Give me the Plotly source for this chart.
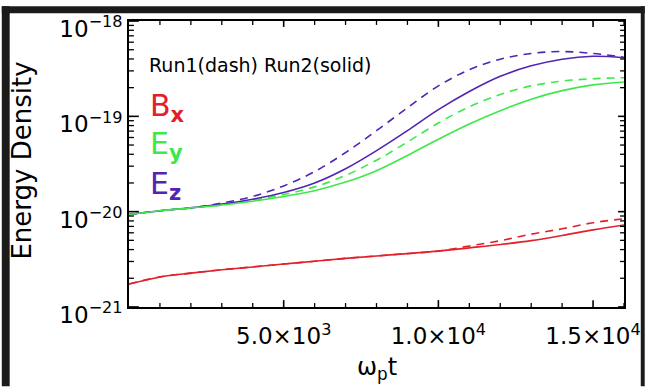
import plotly.graph_objects as go

# time axis (omega_p t)
t = [0, 1000, 2000, 3000, 4000, 5000, 6000, 7000, 8000, 9000, 10000,
     11000, 12000, 13000, 14000, 15000, 16000]

# Run2 (solid)
bx_run2 = [1.738e-21, 2.065e-21, 2.265e-21, 2.455e-21, 2.630e-21, 2.818e-21, 3.020e-21,
           3.236e-21, 3.428e-21, 3.631e-21, 3.855e-21, 4.169e-21, 4.519e-21, 4.966e-21,
           5.623e-21, 6.442e-21, 7.244e-21]
ey_run2 = [9.33e-21, 1.023e-20, 1.096e-20, 1.175e-20, 1.288e-20, 1.445e-20, 1.660e-20,
           2.042e-20, 2.692e-20, 3.890e-20, 5.754e-20, 8.318e-20, 1.148e-19, 1.514e-19,
           1.862e-19, 2.138e-19, 2.291e-19]
ez_run2 = [9.33e-21, 1.023e-20, 1.096e-20, 1.202e-20, 1.349e-20, 1.585e-20, 1.995e-20,
           2.818e-20, 4.365e-20, 7.079e-20, 1.175e-19, 1.820e-19, 2.630e-19, 3.388e-19,
           3.981e-19, 4.266e-19, 4.121e-19]

# Run1 (dash)
bx_run1 = [1.738e-21, 2.065e-21, 2.265e-21, 2.455e-21, 2.630e-21, 2.818e-21, 3.020e-21,
           3.236e-21, 3.428e-21, 3.631e-21, 3.855e-21, 4.365e-21, 4.955e-21, 5.808e-21,
           6.607e-21, 7.656e-21, 8.414e-21]
ey_run1 = [9.33e-21, 1.023e-20, 1.096e-20, 1.175e-20, 1.318e-20, 1.514e-20, 1.820e-20,
           2.399e-20, 3.467e-20, 5.370e-20, 8.511e-20, 1.259e-19, 1.698e-19, 2.089e-19,
           2.344e-19, 2.483e-19, 2.541e-19]
ez_run1 = [9.33e-21, 1.023e-20, 1.096e-20, 1.230e-20, 1.445e-20, 1.862e-20, 2.630e-20,
           4.169e-20, 7.079e-20, 1.230e-19, 2.089e-19, 3.090e-19, 3.981e-19, 4.571e-19,
           4.786e-19, 4.571e-19, 4.169e-19]

x_tickvals = [5000, 10000, 15000]
x_ticktext = ["5.0×10<sup>3</sup>", "1.0×10<sup>4</sup>", "1.5×10<sup>4</sup>"]
x_minorvals = [1000, 2000, 3000, 4000, 6000, 7000, 8000, 9000, 11000, 12000,
               13000, 14000, 16000]
y_tickvals = [1e-21, 1e-20, 1e-19, 1e-18]
y_ticktext = ["10<sup>−21</sup>", "10<sup>−20</sup>", "10<sup>−19</sup>", "10<sup>−18</sup>"]
y_minorvals = [2e-21, 3e-21, 4e-21, 5e-21, 6e-21, 7e-21, 8e-21, 9e-21,
               2e-20, 3e-20, 4e-20, 5e-20, 6e-20, 7e-20, 8e-20, 9e-20,
               2e-19, 3e-19, 4e-19, 5e-19, 6e-19, 7e-19, 8e-19, 9e-19]

RED = "#e3202a"
GREEN = "#3ee84a"
PURPLE = "#5224b4"
DASH = "8px,6px"

fig = go.Figure()
series = [
    (ez_run1, PURPLE, DASH), (ey_run1, GREEN, DASH), (bx_run1, RED, DASH),
    (ez_run2, PURPLE, "solid"), (ey_run2, GREEN, "solid"), (bx_run2, RED, "solid"),
]
for ys, col, dash in series:
    fig.add_trace(go.Scatter(x=t, y=ys, mode="lines",
                             line=dict(color=col, width=1.6, dash=dash, shape="spline"),
                             showlegend=False, hoverinfo="skip"))

FONT = "DejaVu Sans"
W, H = 652, 388
L, R, T, B = 129, 21, 15, 81
pw, ph = W - L - R, H - T - B

def px(xp):
    return (xp - L) / pw

def py(yp):
    return (H - B - yp) / ph

# tick marks drawn inside the frame; helper axes x3 / y3 measure in pixels
def x_tick_segments(vals, len_bottom, len_top):
    xs, ys = [], []
    for v in vals:
        xs += [v, v, None, v, v, None]
        ys += [0, len_bottom, None, ph - len_top, ph, None]
    return xs, ys

def y_tick_segments(vals, len_left, len_right):
    xs, ys = [], []
    for v in vals:
        xs += [0, len_left, None, pw - len_right, pw, None]
        ys += [v, v, None, v, v, None]
    return xs, ys

for vals, lb, lt, w in [(x_tickvals, 7, 6, 1.6), (x_minorvals, 4, 4, 1.3)]:
    xs, ys = x_tick_segments(vals, lb, lt)
    fig.add_trace(go.Scatter(x=xs, y=ys, xaxis="x", yaxis="y3", mode="lines",
                             line=dict(color="black", width=w), showlegend=False,
                             hoverinfo="skip", cliponaxis=False))
for vals, ll, lr, w in [(y_tickvals, 10, 6, 1.6), (y_minorvals, 5, 4, 1.3)]:
    xs, ys = y_tick_segments(vals, ll, lr)
    fig.add_trace(go.Scatter(x=xs, y=ys, xaxis="x3", yaxis="y", mode="lines",
                             line=dict(color="black", width=w), showlegend=False,
                             hoverinfo="skip", cliponaxis=False))

AX = dict(showgrid=False, zeroline=False, showline=True, linecolor="black",
          linewidth=1.6, mirror=True, ticks="")

fig.update_layout(
    width=W, height=H,
    margin=dict(l=L, r=R, t=T, b=B),
    paper_bgcolor="white",
    plot_bgcolor="white",
    font=dict(family=FONT, color="black"),
    xaxis=dict(range=[0, 16000], tickvals=x_tickvals, ticktext=x_ticktext,
               ticklabelstandoff=8, tickfont=dict(size=23, family=FONT), **AX),
    yaxis=dict(type="log", range=[-21.0005, -17.9995], tickvals=y_tickvals,
               ticktext=y_ticktext, ticklabelshift=8,
               tickfont=dict(size=23, family=FONT), **AX),
    xaxis3=dict(range=[0, pw], overlaying="x", visible=False),
    yaxis3=dict(range=[0, ph], overlaying="y", visible=False),
)

# dark frame around the page (top, left, right)
DARK = "#1b1b1b"
for x0, x1, y0, y1 in [(0, 8, 0, 388), (0, 652, 0, 7), (648, 652, 0, 388)]:
    fig.add_shape(type="rect", xref="paper", yref="paper", layer="above",
                  x0=px(x0), x1=px(x1), y0=py(y1), y1=py(y0),
                  fillcolor=DARK, line=dict(width=0))

ann = [
    dict(text="Energy Density", x=px(21), y=py(158), textangle=-90,
         font=dict(size=26, color="black")),
    dict(text="ω<sub>p</sub>t", x=px(380), y=py(370), font=dict(size=24, color="black")),
    dict(text="Run1(dash) Run2(solid)", x=px(147), y=py(60), xanchor="left",
         font=dict(size=19, color="black")),
    dict(text="B<sub><b>x</b></sub>", x=px(148), y=py(103), xanchor="left",
         font=dict(size=30, color=RED)),
    dict(text="E<sub><b>y</b></sub>", x=px(148), y=py(142), xanchor="left",
         font=dict(size=30, color=GREEN)),
    dict(text="E<sub><b>z</b></sub>", x=px(148), y=py(183), xanchor="left",
         font=dict(size=30, color=PURPLE)),
]
for a in ann:
    a.setdefault("xanchor", "center")
    fig.add_annotation(xref="paper", yref="paper", showarrow=False, yanchor="middle", **a)

fig.write_html("out.html")
